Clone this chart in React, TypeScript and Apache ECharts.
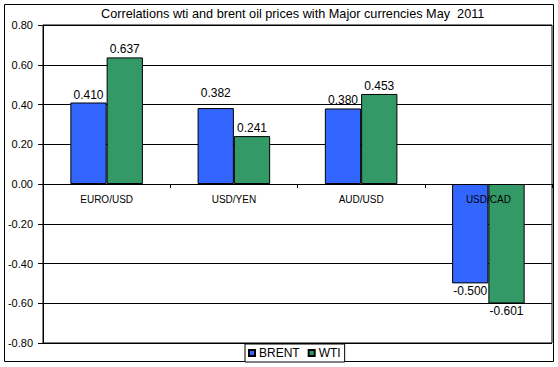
import React, { useEffect, useRef } from "react";
import * as echarts from "echarts";

const categories = ["EURO/USD", "USD/YEN", "AUD/USD", "USD/CAD"];
const brentValues = [0.41, 0.382, 0.38, -0.5];
const wtiValues = [0.637, 0.241, 0.453, -0.601];
const yMin = -0.8;
const yMax = 0.8;
const yStep = 0.2;
const titleText = "Correlations wti and brent oil prices with Major currencies May  2011";

const FONT = "'Liberation Sans', Arial, sans-serif";
const GRID_TOP = 25;
const GRID_BOTTOM = 24;
const HEIGHT = 367;

function toData(values: number[], extraOffsets: Record<number, number[]>) {
  return values.map((v, i) => ({
    value: v,
    label: {
      position: v < 0 ? "bottom" : "top",
      offset: extraOffsets[i] || [0, 0],
    },
  }));
}

export default function App() {
  const ref = useRef<HTMLDivElement>(null);
  useEffect(() => {
    if (!ref.current) return;
    const chart = echarts.init(ref.current, undefined, { renderer: "svg" });
    const gridHeight = HEIGHT - GRID_TOP - GRID_BOTTOM;
    // move the category axis from the bottom edge up to the zero line
    const zeroOffset = -Math.round((gridHeight * (0 - yMin)) / (yMax - yMin));
    const labelCommon = {
      show: true,
      color: "#000",
      fontSize: 12,
      fontFamily: FONT,
      distance: 2,
      formatter: (p: any) => Number(p.value).toFixed(3),
    };
    chart.setOption({
      animation: false,
      backgroundColor: "#fff",
      title: {
        text: titleText,
        left: 101,
        top: 7,
        padding: 0,
        textStyle: { fontSize: 12.7, fontWeight: "normal", color: "#000", fontFamily: FONT },
      },
      graphic: [
        {
          type: "rect",
          shape: { x: 4.5, y: 4.5, width: 549, height: 357 },
          style: { fill: "none", stroke: "#000", lineWidth: 1 },
          z: -1,
          silent: true,
        },
      ],
      legend: {
        data: ["BRENT", "WTI"],
        left: 245,
        top: 344,
        orient: "horizontal",
        itemWidth: 6,
        itemHeight: 6,
        itemGap: 8,
        icon: "rect",
        padding: [3, 4, 3, 3],
        borderColor: "#000",
        borderWidth: 1,
        backgroundColor: "#fff",
        textStyle: { fontSize: 12, color: "#000", fontFamily: FONT, padding: [0, 0, 0, -1] },
      },
      grid: {
        left: 43,
        top: GRID_TOP,
        right: 6,
        bottom: GRID_BOTTOM,
        show: true,
        borderColor: "#000",
        borderWidth: 1,
        containLabel: false,
      },
      xAxis: {
        type: "category",
        data: categories,
        z: 5,
        position: "bottom",
        offset: zeroOffset,
        axisLine: { onZero: false, lineStyle: { color: "#000", width: 1 } },
        axisTick: { show: true, length: 4, lineStyle: { color: "#000" } },
        axisLabel: { color: "#000", fontSize: 10, fontFamily: FONT, margin: 10 },
        splitLine: { show: false },
      },
      yAxis: {
        type: "value",
        min: yMin,
        max: yMax,
        interval: yStep,
        axisLine: { show: true, lineStyle: { color: "#000" } },
        axisTick: { show: true, length: 5, lineStyle: { color: "#000" } },
        axisLabel: {
          color: "#000",
          fontSize: 11,
          fontFamily: FONT,
          margin: 10,
          formatter: (v: number) => v.toFixed(2),
        },
        splitLine: { show: true, lineStyle: { color: "#000", width: 1 } },
      },
      series: [
        {
          name: "BRENT",
          type: "bar",
          data: toData(brentValues, { 1: [0, -7] }),
          barGap: "0%",
          barCategoryGap: "43%",
          itemStyle: { color: "#3366FF", borderColor: "#000", borderWidth: 1 },
          label: labelCommon,
        },
        {
          name: "WTI",
          type: "bar",
          data: toData(wtiValues, {}),
          itemStyle: { color: "#339966", borderColor: "#000", borderWidth: 1 },
          label: labelCommon,
        },
      ],
    });
    return () => chart.dispose();
  }, []);
  return (
    <div
      ref={ref}
      style={{ position: "fixed", left: 0, top: 0, width: 558, height: 367 }}
    />
  );
}
